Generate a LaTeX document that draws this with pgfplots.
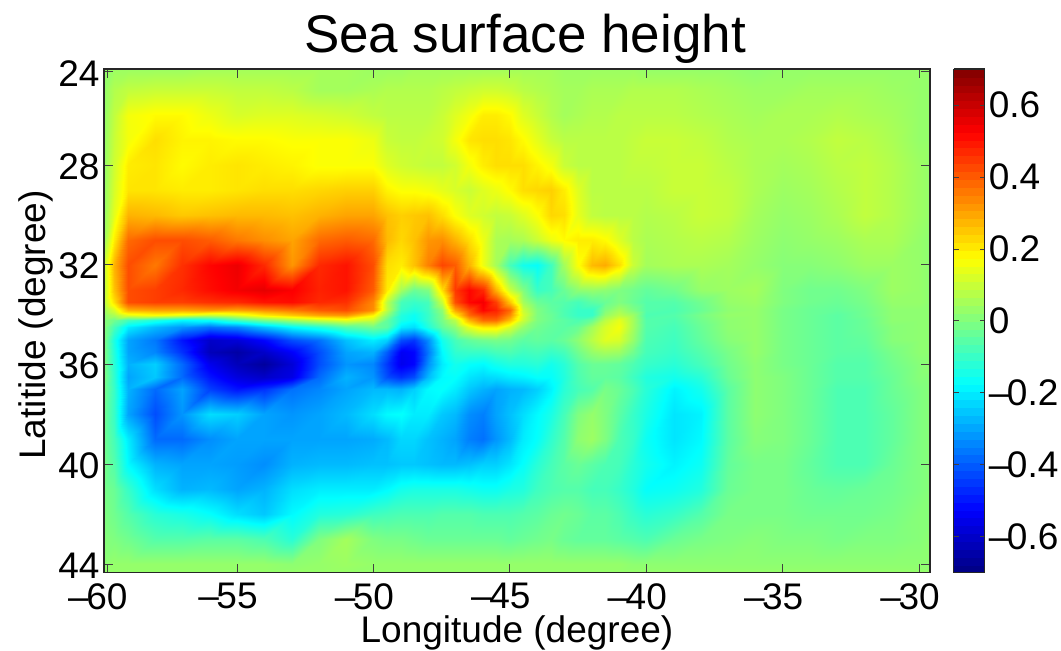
\documentclass[border=0pt]{standalone}
\usepackage{fontspec}
\setmainfont{Liberation Sans}
\usepackage{pgfplots}
\usepackage{pgfplotstable}
\pgfplotsset{compat=1.18}
% first row: longitude of each column; first column: latitude of each row; values: sea surface height
\pgfplotstableread[header=false]{
0 -59.875 -59.5 -59 -58 -57 -56 -55 -54 -53 -52 -51 -50 -49.5 -49 -48.5 -48 -47.5 -47 -46.5 -46 -45.5 -45 -44.5 -44 -43.5 -43 -42.5 -42 -41.5 -41 -40.5 -40 -39 -38 -37 -36 -35 -34 -33 -32 -31 -30 -29.6
24.15 .03 .04 .04 .04 .04 .05 .05 .05 .05 .05 .05 .04 .04 .04 .05 .05 .05 .05 .05 .05 .05 .05 .05 .05 .05 .04 .04 .04 .04 .04 .04 .03 .03 .03 .03 .02 .03 .03 .03 .03 .03 .03 .03
25 .03 .07 .09 .10 .10 .10 .09 .09 .08 .05 .05 .06 .07 .07 .07 .07 .08 .09 .10 .11 .11 .10 .08 .07 .06 .05 .05 .06 .06 .06 .07 .07 .07 .06 .05 .04 .04 .05 .05 .05 .04 .03 .03
26 .03 .09 .16 .18 .18 .15 .12 .13 .13 .12 .11 .09 .08 .08 .08 .08 .10 .13 .16 .20 .20 .18 .13 .10 .07 .05 .06 .07 .07 .08 .08 .08 .08 .07 .06 .05 .06 .06 .07 .06 .05 .03 .03
27 .03 .10 .16 .22 .19 .19 .18 .18 .17 .17 .17 .15 .10 .09 .09 .10 .11 .16 .21 .22 .22 .21 .18 .14 .10 .08 .08 .08 .08 .08 .09 .10 .10 .09 .07 .06 .06 .07 .09 .08 .06 .03 .03
28 .03 .11 .20 .21 .18 .20 .21 .20 .19 .17 .17 .17 .13 .11 .10 .09 .09 .11 .16 .20 .22 .22 .22 .19 .16 .10 .08 .08 .08 .08 .09 .09 .10 .10 .08 .06 .05 .06 .08 .09 .07 .04 .03
29 .03 .12 .21 .21 .20 .20 .21 .22 .22 .23 .24 .24 .19 .17 .17 .16 .14 .12 .10 .13 .15 .18 .22 .23 .24 .20 .13 .08 .08 .08 .08 .08 .10 .10 .09 .06 .04 .05 .07 .09 .07 .04 .03
30 .03 .14 .28 .27 .25 .26 .27 .27 .26 .28 .30 .30 .26 .24 .25 .26 .22 .17 .13 .11 .09 .10 .13 .17 .23 .22 .14 .09 .08 .08 .08 .07 .08 .10 .09 .05 .03 .04 .06 .09 .07 .04 .03
31 .04 .20 .38 .42 .42 .40 .36 .33 .30 .38 .40 .38 .27 .23 .26 .32 .33 .28 .22 .15 .06 .05 .06 .10 .15 .18 .20 .20 .18 .13 .08 .06 .07 .08 .07 .04 .02 .03 .04 .06 .06 .03 .02
32 .10 .28 .42 .36 .46 .52 .55 .47 .32 .47 .50 .42 .22 .20 .26 .35 .43 .40 .28 .15 .05 -.08 -.15 -.17 -.09 .05 .17 .27 .29 .22 .10 .05 .06 .06 .05 .03 .01 .01 .02 .04 .04 .03 .02
33 .08 .26 .42 .44 .47 .51 .54 .56 .53 .48 .50 .40 .20 .05 -.03 0 .22 .45 .52 .47 .28 .10 0 -.10 -.08 -.03 .02 .03 .02 0 -.02 -.04 -.02 .03 .04 .05 0 -.02 -.02 0 .04 .03 .02
33.5 .08 .22 .42 .44 .44 .46 .47 .50 .51 .47 .46 .34 .08 -.08 -.10 -.08 .10 .42 .52 .54 .44 .25 .05 -.03 -.05 -.06 -.08 -.05 -.03 0 -.03 -.06 -.06 -.02 .03 .04 0 -.02 -.03 -.01 .03 .03 .02
33.8 .04 .12 .28 .30 .30 .32 .30 .33 .36 .40 .42 .33 .08 -.10 -.13 -.09 .02 .30 .42 .52 .48 .38 .10 0 -.04 -.07 -.10 -.10 0 .05 0 -.06 -.07 -.03 .02 .03 -.01 -.03 -.04 -.02 .02 .02 .02
34 .02 .06 .14 .17 .14 .10 .13 .20 .25 .30 .32 .19 .02 -.13 -.16 -.10 0 .20 .38 .44 .44 .33 .12 0 -.03 -.07 -.10 -.10 .03 .08 .04 -.07 -.06 -.01 .03 .03 -.01 -.03 -.05 -.02 .02 .02 .02
34.2 .01 -.02 -.08 -.13 -.18 -.16 -.08 -.01 .05 .10 .14 .10 -.04 -.14 -.17 -.10 -.01 .08 .28 .38 .38 .26 .10 0 -.03 -.05 -.07 -.03 .08 .14 .05 -.06 -.07 -.02 .02 .03 -.01 -.03 -.05 -.03 .02 .02 .02
34.5 .01 -.08 -.20 -.27 -.32 -.37 -.34 -.26 -.18 -.13 -.06 -.02 -.05 -.20 -.22 -.13 -.04 .02 .14 .20 .20 .12 .03 -.02 -.04 -.05 -.03 .05 .12 .16 .05 -.06 -.08 -.03 .02 .03 -.01 -.03 -.05 -.03 .01 .02 .02
35 0 -.14 -.30 -.36 -.50 -.60 -.58 -.52 -.42 -.37 -.26 -.20 -.24 -.42 -.45 -.33 -.15 -.08 -.04 -.02 -.01 -.02 -.05 -.04 -.05 -.03 .02 .08 .13 .12 .03 -.07 -.09 -.04 .01 .03 -.01 -.03 -.05 -.04 .01 .02 .02
35.5 0 -.13 -.30 -.34 -.46 -.62 -.65 -.60 -.53 -.42 -.30 -.28 -.40 -.54 -.52 -.36 -.18 -.11 -.10 -.10 -.08 -.07 -.09 -.08 -.10 -.08 -.02 .03 .05 .04 -.02 -.08 -.10 -.06 -.01 .03 -.01 -.03 -.05 -.05 -.01 .02 .02
36 0 -.12 -.28 -.24 -.38 -.55 -.62 -.66 -.58 -.42 -.32 -.34 -.45 -.55 -.52 -.33 -.20 -.15 -.17 -.18 -.15 -.13 -.13 -.12 -.15 -.12 -.06 -.03 -.03 -.04 -.07 -.10 -.12 -.08 -.02 .02 -.01 -.03 -.06 -.06 -.02 .01 .02
36.5 0 -.11 -.30 -.25 -.38 -.50 -.57 -.60 -.56 -.38 -.28 -.32 -.42 -.46 -.42 -.27 -.18 -.17 -.21 -.23 -.22 -.20 -.19 -.17 -.17 -.13 -.07 -.04 -.04 -.05 -.09 -.13 -.15 -.12 -.03 .02 0 -.03 -.06 -.06 -.03 .01 .01
37 -.01 -.10 -.28 -.38 -.30 -.44 -.50 -.46 -.37 -.34 -.30 -.27 -.27 -.28 -.24 -.18 -.17 -.20 -.25 -.28 -.30 -.28 -.27 -.24 -.19 -.12 -.08 -.06 -.01 -.03 -.07 -.12 -.19 -.15 -.05 .02 0 -.03 -.07 -.07 -.03 0 .01
38 -.02 -.10 -.30 -.42 -.32 -.22 -.24 -.30 -.32 -.30 -.27 -.22 -.18 -.17 -.20 -.20 -.25 -.27 -.33 -.35 -.30 -.26 -.22 -.18 -.14 -.08 0 .03 0 -.05 -.10 -.14 -.21 -.19 -.05 .02 0 -.03 -.07 -.07 -.04 0 .01
39 -.02 -.08 -.20 -.38 -.38 -.33 -.30 -.30 -.30 -.30 -.30 -.29 -.27 -.23 -.23 -.26 -.28 -.30 -.35 -.37 -.32 -.27 -.20 -.17 -.11 -.06 .02 .04 0 -.07 -.10 -.16 -.21 -.18 -.05 .01 0 -.03 -.07 -.07 -.04 0 .01
40 -.01 -.06 -.18 -.28 -.30 -.30 -.31 -.33 -.28 -.27 -.27 -.26 -.26 -.25 -.25 -.26 -.27 -.27 -.26 -.24 -.24 -.21 -.17 -.12 -.08 -.05 -.03 -.05 -.07 -.08 -.12 -.15 -.19 -.16 -.04 -.01 -.01 -.04 -.07 -.07 -.03 0 .01
41 -.01 -.03 -.10 -.22 -.28 -.27 -.30 -.28 -.22 -.20 -.20 -.20 -.18 -.15 -.14 -.14 -.14 -.14 -.15 -.16 -.16 -.14 -.13 -.09 -.07 -.06 -.06 -.08 -.08 -.10 -.13 -.17 -.16 -.13 -.03 -.01 -.01 -.03 -.04 -.03 -.02 0 .01
42 0 -.02 -.06 -.12 -.14 -.17 -.22 -.25 -.18 -.13 -.12 -.09 -.08 -.07 -.07 -.07 -.06 -.06 -.06 -.07 -.07 -.07 -.06 -.05 -.03 -.02 -.03 -.05 -.05 -.07 -.10 -.12 -.10 -.06 -.01 -.01 -.01 -.02 -.02 -.02 -.01 .01 .01
43 .01 0 -.02 -.06 -.06 -.05 -.05 -.07 -.12 0 .05 0 -.01 -.01 -.02 -.03 -.03 -.03 -.03 -.03 -.03 -.04 -.03 -.02 -.01 -.03 -.04 -.04 -.04 -.05 -.06 -.07 -.03 -.01 0 .01 0 0 -.01 0 0 .01 .02
44 .02 .03 .03 .03 .03 .03 .03 .03 .02 .03 .04 .03 .03 .03 .03 .03 .03 .03 .03 .03 .03 .03 .03 .03 .03 .03 .03 .03 .03 .03 .02 .02 .02 .02 .02 .02 .02 .02 .02 .02 .02 .02 .02
44.35 .03 .03 .03 .03 .03 .03 .03 .03 .03 .03 .03 .03 .03 .03 .03 .03 .03 .03 .03 .03 .03 .03 .03 .03 .03 .03 .03 .03 .03 .03 .03 .03 .03 .03 .03 .03 .03 .03 .03 .03 .03 .03 .03
}\ssh
\gdef\pts{}
\foreach \r in {1,...,28}{%
  \pgfplotstablegetelem{\r}{[index]0}\of\ssh \edef\latv{\pgfplotsretval}%
  \foreach \c in {1,...,43}{%
    \pgfplotstablegetelem{0}{[index]\c}\of\ssh \edef\lonv{\pgfplotsretval}%
    \pgfplotstablegetelem{\r}{[index]\c}\of\ssh \edef\valv{\pgfplotsretval}%
    \xdef\pts{\pts (\lonv,\latv) [\valv] }%
  }%
}
\newcommand\lab{\fontsize{37}{40}\selectfont}
\newcommand\mn{\llap{–\kern-2.5pt}}
\newcommand\mc{–\kern-2.5pt}
\begin{document}
\begin{tikzpicture}[x=1pt,y=1pt]
\path[use as bounding box] (-104,-78.3) rectangle (957,572.7);
\begin{axis}[
  at={(0,0)},anchor=south west,
  scale only axis,width=826pt,height=503.7pt,
  xmin=-59.875,xmax=-29.6,ymin=24.15,ymax=44.35,y dir=reverse,
  axis on top,
  axis line style={line width=1.1pt,color=black!85},
  tick align=inside,tick pos=both,major tick length=9pt,
  every tick/.style={line width=0.7pt,color=black!75},
  xtick={-59.77,-55,-50,-45,-40,-35,-30},
  xticklabels={\mn 60,\mn 55,\mn 50,\mn 45,\mn 40,\mn 35,\mn 30},
  ytick={24.26,28,32,36,40,44},
  yticklabels={24,28,32,36,40,44},
  tick label style={font=\lab},
  xticklabel style={yshift=-7pt},
  yticklabel style={xshift=-1pt,yshift=-1.5pt},
  title={Sea surface height},
  title style={font=\fontsize{53}{56}\selectfont,at={(axis description cs:0.5,1)},anchor=base,yshift=11pt,xshift=8pt},
  xlabel={Longitude (degree)},
  xlabel style={font=\lab,at={(axis description cs:0.5,0)},anchor=base,yshift=-70pt},
  ylabel={Latitide (degree)},
  ylabel style={font=\lab,at={(axis description cs:0,0.5)},anchor=base,yshift=58pt,xshift=-4pt},
  colormap/jet,
  point meta min=-0.70,point meta max=0.70,
  colorbar sampled,
  colorbar style={
    samples=65,
    at={(parent axis.south east)},anchor=south west,xshift=15.3pt,
    scale only axis,width=31pt,height=503.7pt,
    axis on top,
    axis line style={line width=1.1pt,color=black!85},
    ytick={-0.6,-0.4,-0.2,0,0.2,0.4,0.6},
    yticklabels={\mc 0.6,\mc 0.4,\mc 0.2,0,0.2,0.4,0.6},
    tick align=inside,major tick length=5pt,
    ytick pos=both,yticklabel pos=right,
    yticklabel style={font=\lab,xshift=0.5pt},
    every tick/.style={line width=0.7pt,color=black!75},
  },
]
\edef\plotit{\noexpand\addplot[surf,shader=interp,mesh/cols=43,mesh/rows=28,point meta=explicit] coordinates {\pts};}
\plotit
\end{axis}
\end{tikzpicture}
\end{document}
